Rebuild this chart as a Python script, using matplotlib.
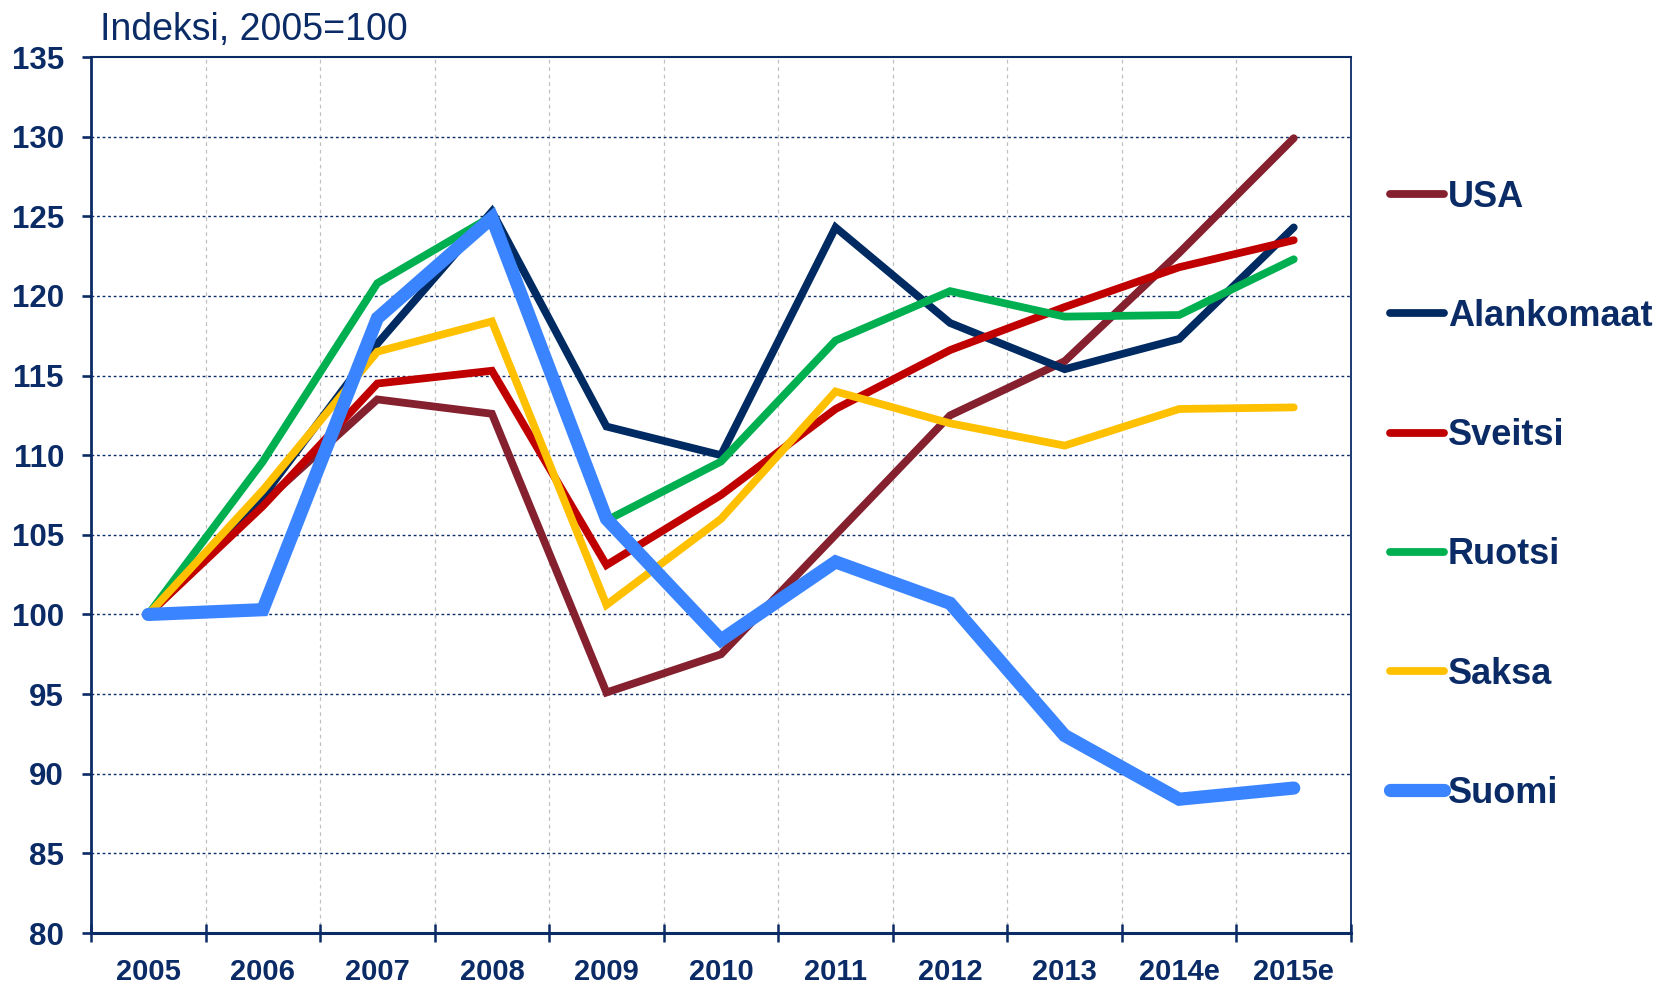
import numpy as np
import matplotlib
matplotlib.use('Agg')
import matplotlib.pyplot as plt

plt.rcParams['font.family'] = ['Liberation Sans', 'DejaVu Sans']

# data
vuodet = ['2005', '2006', '2007', '2008', '2009', '2010', '2011', '2012', '2013', '2014e', '2015e']
usa = [100, 107.0, 113.5, 112.6, 95.1, 97.5, 105.0, 112.5, 115.9, 122.7, 129.9]
alankomaat = [100, 107.4, 117.0, 125.3, 111.8, 110.0, 124.3, 118.3, 115.4, 117.3, 124.3]
sveitsi = [100, 106.8, 114.5, 115.3, 103.1, 107.5, 112.9, 116.6, 119.3, 121.8, 123.5]
ruotsi = [100, 109.6, 120.8, 125.0, 105.9, 109.6, 117.2, 120.3, 118.7, 118.8, 122.3]
saksa = [100, 107.8, 116.5, 118.4, 100.6, 106.0, 114.0, 112.0, 110.6, 112.9, 113.0]
suomi = [100, 100.3, 118.6, 124.9, 106.0, 98.4, 103.3, 100.7, 92.4, 88.4, 89.1]

sarjat = [
    ('USA', usa, '#85202F', 5.6),
    ('Alankomaat', alankomaat, '#002A62', 5.6),
    ('Sveitsi', sveitsi, '#C00000', 5.6),
    ('Ruotsi', ruotsi, '#00B050', 5.6),
    ('Saksa', saksa, '#FFC000', 5.6),
    ('Suomi', suomi, '#3A85FF', 9.5),
]

navy = '#0A2B66'

fig = plt.figure(figsize=(16.61, 9.84), dpi=100)
ax = fig.add_axes([91 / 1661, 1 - 933 / 984, (1351 - 91) / 1661, (933 - 57) / 984])

x = np.arange(len(vuodet))
for nimi, arvot, vari, lw in sarjat:
    ax.plot(x, arvot, color=vari, lw=lw, label=nimi, solid_capstyle='round', solid_joinstyle='miter')

ax.set_xlim(-0.5, len(vuodet) - 0.5)
ax.set_ylim(80, 135)
ax.set_yticks(np.arange(80, 136, 5))
ax.set_xticks(x)
ax.set_xticklabels(vuodet)
ax.set_xticks(np.arange(-0.5, len(vuodet)), minor=True)

# grids
for yv in range(85, 135, 5):
    ax.axhline(yv, color=navy, lw=1.0, ls=(0, (2, 2)), zorder=0.5)
for xv in np.arange(0.5, len(vuodet) - 1):
    ax.axvline(xv, color='#C0C0C0', lw=0.9, ls=(0, (3, 3)), zorder=0.4)

ax.tick_params(axis='x', which='major', length=0, pad=18, labelsize=21, labelcolor=navy)
ax.tick_params(axis='x', which='minor', length=13.5, width=1.8, direction='inout', color=navy)
ax.tick_params(axis='y', length=6.5, width=1.9, direction='out', color=navy, pad=13,
               labelsize=22.5, labelcolor=navy)
for lab in ax.get_xticklabels() + ax.get_yticklabels():
    lab.set_fontweight('bold')

ax.spines['left'].set_linewidth(2.0)
ax.spines['bottom'].set_linewidth(2.2)
ax.spines['top'].set_linewidth(1.5)
ax.spines['right'].set_linewidth(1.3)
for s in ax.spines.values():
    s.set_color(navy)

fig.text(100 / 1661, 1 - 40 / 984, 'Indeksi, 2005=100', fontsize=27, color=navy, ha='left', va='baseline')

leg = ax.legend(loc='upper left', bbox_to_anchor=(1390 / 1661, 1 - 180 / 984),
                bbox_transform=fig.transFigure, frameon=False, borderpad=0, borderaxespad=0,
                handlelength=1.5, handletextpad=0.1, labelspacing=2.33,
                prop={'size': 26, 'weight': 'bold'})
for t in leg.get_texts():
    t.set_color(navy)

fig.savefig('out.png', dpi=100)
